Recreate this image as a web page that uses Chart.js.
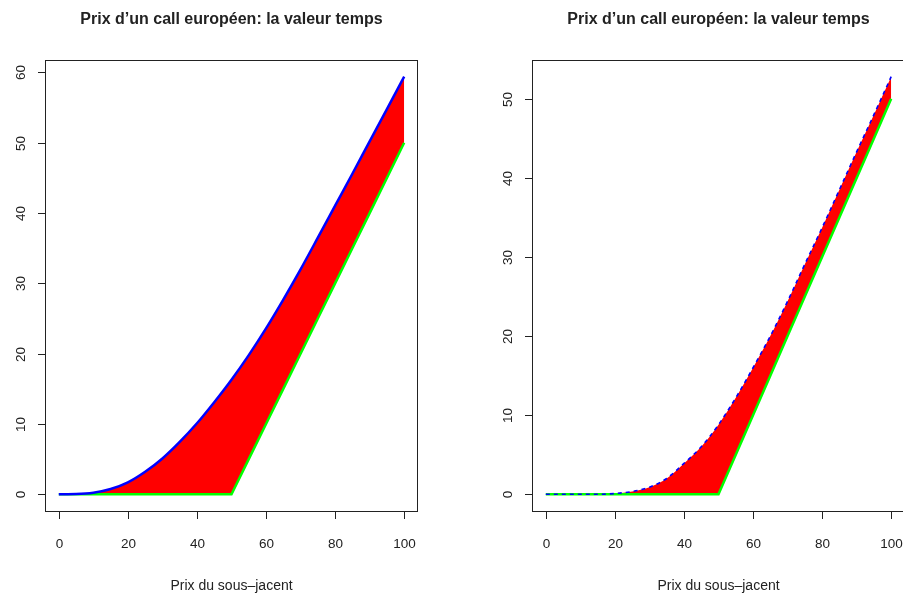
<!DOCTYPE html>
<html>
<head>
<meta charset="utf-8">
<script src="https://cdn.jsdelivr.net/npm/chart.js@4"></script>
<style>
  html, body { margin: 0; padding: 0; background: #fff; }
  #wrap { position: relative; width: 903px; height: 597px; overflow: hidden; }
  canvas { position: absolute; top: 0; }
  #left { left: 0; }
  #right { left: 451px; }
</style>
</head>
<body>
<div id="wrap">
  <canvas id="left" width="451" height="597"></canvas>
  <canvas id="right" width="460" height="597"></canvas>
</div>
<script>
// underlying price (x values)
const spot = [0, 5, 10, 15, 20, 25, 30, 35, 40, 45, 50, 55, 60, 65, 70, 75, 80, 85, 90, 95, 100];
// call price, left panel
const callLeft = [0, 0.03, 0.22, 0.75, 1.7, 3.2, 5.1, 7.45, 10.1, 13.1, 16.3, 19.8, 23.6, 27.7, 32.0, 36.5, 41.05, 45.6, 50.2, 54.8, 59.4];
// call price, right panel
const callRight = [0, 0, 0, 0, 0.1, 0.35, 0.9, 2.0, 3.9, 6.0, 8.8, 12.2, 16.0, 20.0, 24.4, 29.1, 33.7, 38.5, 43.3, 48.0, 52.8];
// intrinsic value max(S-K,0), K = 50
const payoff = [0, 0, 0, 0, 0, 0, 0, 0, 0, 0, 0, 5, 10, 15, 20, 25, 30, 35, 40, 45, 50];

const xTicks = [0, 20, 40, 60, 80, 100];
const yTicksLeft = [0, 10, 20, 30, 40, 50, 60];
const yTicksRight = [0, 10, 20, 30, 40, 50];

const titleText = "Prix d\u2019un call européen: la valeur temps";
const xLabel = "Prix du sous\u2013jacent";

function pts(ys){
  return spot.map((x, i) => ({x: x, y: ys[i]}));
}

// R style box + axes, using the chart's own scales
const rAxes = {
  id: 'rAxes',
  afterDraw(chart, args, opts){
    const c = chart.ctx;
    const a = chart.chartArea;
    const xs = chart.scales.x, ys = chart.scales.y;
    c.save();
    c.strokeStyle = '#222';
    c.lineWidth = 1;
    c.strokeRect(a.left + 0.5, a.top + 0.5, a.right - a.left - 1, a.bottom - a.top);

    c.fillStyle = '#222';
    // x axis
    const x0 = xs.getPixelForValue(opts.xTicks[0]);
    const x1 = xs.getPixelForValue(opts.xTicks[opts.xTicks.length - 1]);
    c.beginPath();
    c.moveTo(x0, a.bottom + 0.5); c.lineTo(x1, a.bottom + 0.5);
    c.font = '13.5px "Liberation Sans", Arial, sans-serif';
    c.textAlign = 'center';
    c.textBaseline = 'middle';
    for (const t of opts.xTicks){
      const px = Math.round(xs.getPixelForValue(t)) + 0.5;
      c.moveTo(px, a.bottom); c.lineTo(px, a.bottom + 8);
      c.fillText(String(t), px, 544);
    }
    c.stroke();

    // y axis
    const y0 = ys.getPixelForValue(opts.yTicks[0]);
    const y1 = ys.getPixelForValue(opts.yTicks[opts.yTicks.length - 1]);
    c.beginPath();
    c.moveTo(a.left + 0.5, y0); c.lineTo(a.left + 0.5, y1);
    for (const t of opts.yTicks){
      const py = Math.round(ys.getPixelForValue(t)) + 0.5;
      c.moveTo(a.left, py); c.lineTo(a.left - 7, py);
      c.save();
      c.translate(a.left - 24, py);
      c.rotate(-Math.PI / 2);
      c.fillText(String(t), 0, 0);
      c.restore();
    }
    c.stroke();

    const cx = (a.left + a.right) / 2;
    c.font = 'bold 16px "Liberation Sans", Arial, sans-serif';
    c.textBaseline = 'alphabetic';
    c.fillText(titleText, cx, 24);
    c.font = '14px "Liberation Sans", Arial, sans-serif';
    c.textBaseline = 'middle';
    c.fillText(xLabel, cx, 586);
    c.restore();
  }
};

function makeChart(id, callVals, yMin, yMax, yTicks, pad, dashed){
  return new Chart(document.getElementById(id), {
    type: 'line',
    data: {
      datasets: [
        {
          label: 'call',
          data: pts(callVals),
          borderColor: '#0000ff',
          borderWidth: dashed ? 1.6 : 2.5,
          borderDash: dashed ? [4, 4] : [],
          backgroundColor: '#ff0000',
          fill: '+1',
          pointRadius: 0,
          cubicInterpolationMode: 'monotone'
        },
        {
          label: 'payoff',
          data: pts(payoff),
          borderColor: '#00ff00',
          borderWidth: 2.5,
          pointRadius: 0,
          tension: 0,
          fill: false
        }
      ]
    },
    options: {
      responsive: false,
      animation: false,
      layout: { padding: pad },
      plugins: {
        legend: { display: false },
        tooltip: { enabled: false },
        filler: { drawTime: 'beforeDatasetsDraw' },
        rAxes: { xTicks: xTicks, yTicks: yTicks }
      },
      scales: {
        x: { type: 'linear', min: -4, max: 104, display: false },
        y: { type: 'linear', min: yMin, max: yMax, display: false }
      }
    },
    plugins: [rAxes]
  });
}

makeChart('left', callLeft, -2.376, 61.776, yTicksLeft, {left: 45, right: 33, top: 60, bottom: 86}, false);
makeChart('right', callRight, -2.112, 54.912, yTicksRight, {left: 81, right: 6, top: 60, bottom: 86}, true);
</script>
</body>
</html>
